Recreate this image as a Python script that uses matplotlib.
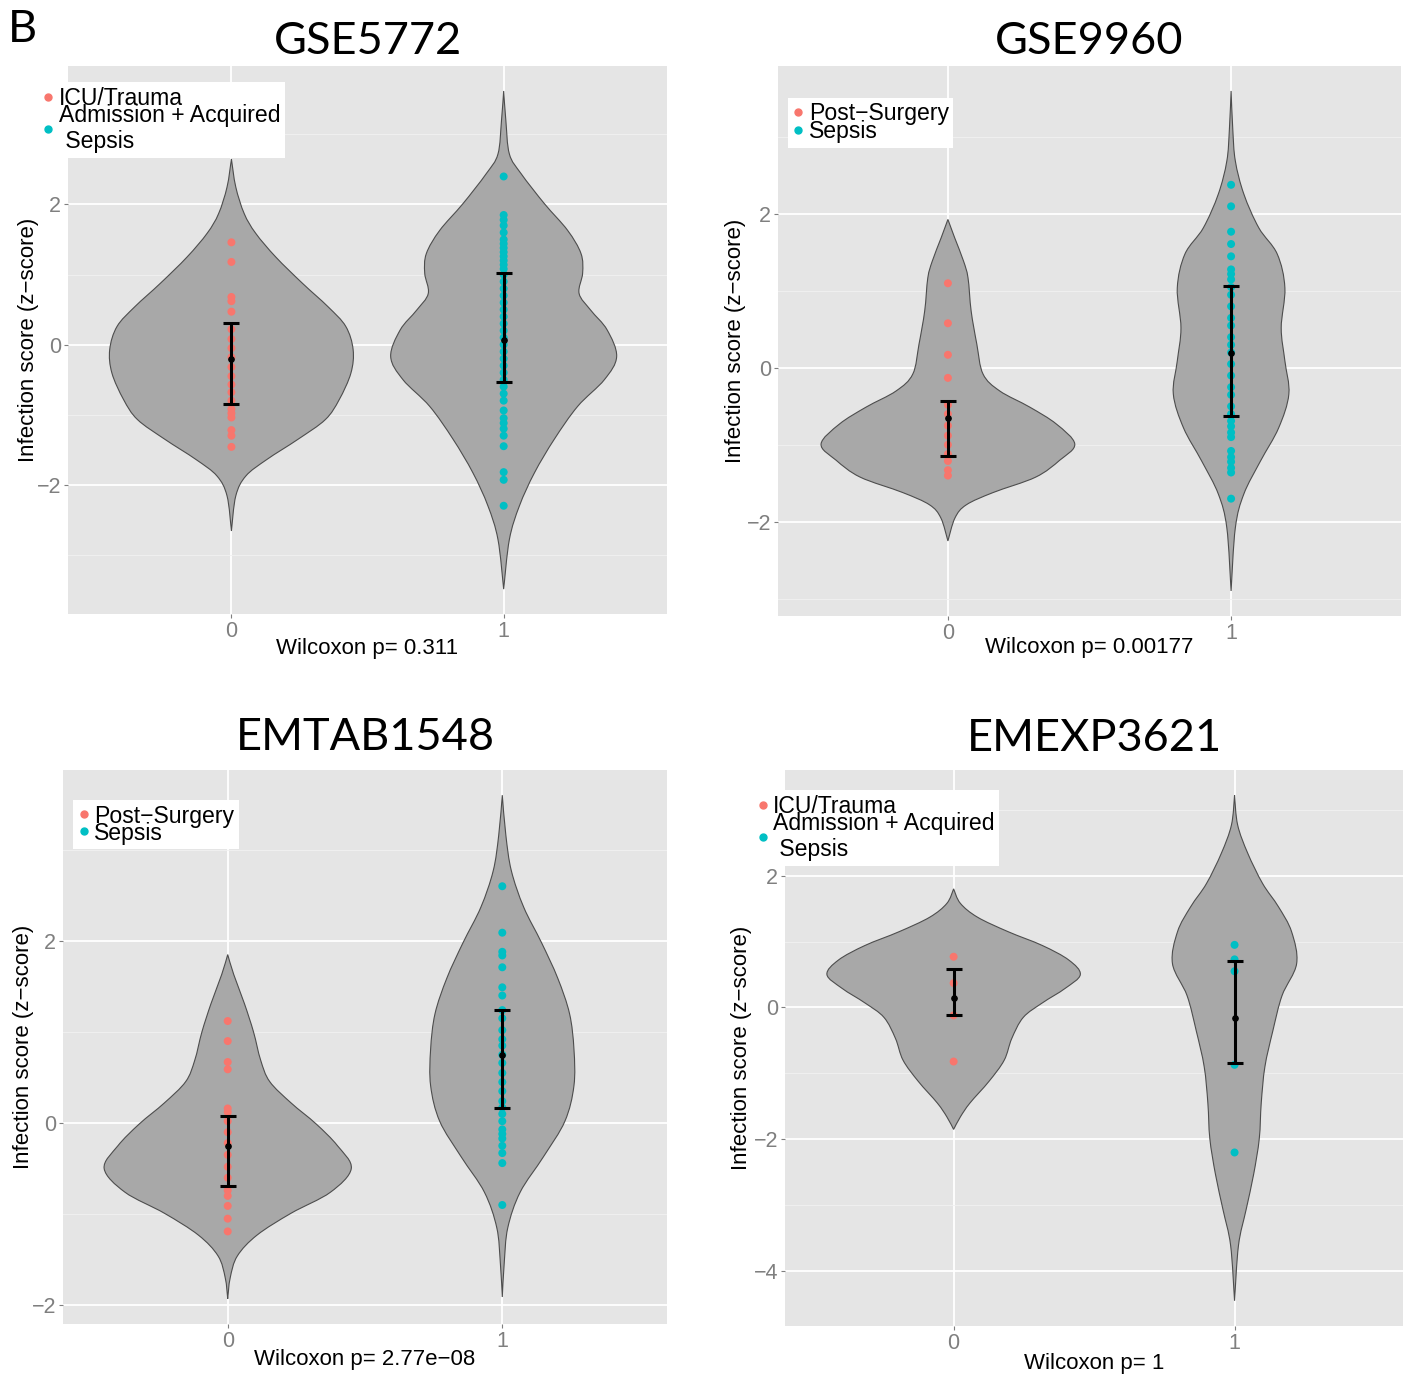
import matplotlib
matplotlib.use("Agg")
import matplotlib.pyplot as plt
import numpy as np
from matplotlib.path import Path
from matplotlib.patches import PathPatch
from matplotlib.lines import Line2D

plt.rcParams["font.family"] = ["Liberation Sans", "DejaVu Sans"]

RED = "#F8766D"
CYAN = "#00BFC4"
GROUPS = [0, 1]

# ---- GSE5772 ----
GSE5772_RED = [1.46, 1.18, 0.68, 0.62, 0.47, 0.22, 0.08, -0.05, -0.18, -0.32, -0.45,
               -0.57, -0.68, -0.80, -0.92, -0.98, -1.04, -1.22, -1.30, -1.46]
GSE5772_CYAN = [2.40, 1.85, 1.78, 1.70, 1.60, 1.50, 1.44, 1.38, 1.32, 1.26, 1.20, 1.14,
                1.08, 1.00, 0.90, 0.80, 0.70, 0.60, 0.50, 0.40, 0.30, 0.20, 0.10, 0.00,
                -0.10, -0.20, -0.30, -0.40, -0.50, -0.60, -0.70, -0.80, -0.94, -1.05,
                -1.12, -1.20, -1.30, -1.45, -1.82, -1.93, -2.30]
GSE5772_MEAN = [-0.20, 0.06]
GSE5772_LO = [-0.85, -0.54]
GSE5772_HI = [0.31, 1.02]
GSE5772_V0_Y = [2.65, 2.25, 1.87, 1.59, 1.25, 0.875, 0.54, 0.26, -0.07, -0.405, -0.785,
                -1.07, -1.35, -1.64, -1.875, -2.16, -2.66]
GSE5772_V0_W = [0, 0.016, 0.047, 0.089, 0.163, 0.261, 0.355, 0.420, 0.447, 0.439, 0.396,
                0.345, 0.245, 0.13, 0.053, 0.016, 0]
GSE5772_V1_Y = [3.62, 3.2, 2.72, 2.44, 2.01, 1.63, 1.30, 1.02, 0.73, 0.49, 0.21, -0.17,
                -0.50, -0.88, -1.35, -1.83, -2.30, -2.78, -3.49]
GSE5772_V1_W = [0, 0.008, 0.021, 0.064, 0.15, 0.235, 0.284, 0.29, 0.277, 0.32, 0.38,
                0.415, 0.37, 0.272, 0.186, 0.113, 0.058, 0.021, 0]

# ---- GSE9960 ----
GSE9960_RED = [1.10, 0.58, 0.17, -0.13, -0.48, -0.60, -0.75, -0.88, -1.00, -1.12, -1.21,
               -1.33, -1.40]
GSE9960_CYAN = [2.38, 2.10, 1.77, 1.61, 1.45, 1.28, 1.22, 1.15, 1.05, 0.95, 0.80, 0.65,
                0.55, 0.40, 0.30, 0.20, 0.05, -0.10, -0.25, -0.35, -0.50, -0.60, -0.69,
                -0.76, -0.84, -0.90, -1.08, -1.16, -1.22, -1.30, -1.36, -1.70]
GSE9960_MEAN = [-0.65, 0.19]
GSE9960_LO = [-1.14, -0.62]
GSE9960_HI = [-0.43, 1.07]
GSE9960_V0_Y = [1.93, 1.69, 1.39, 1.17, 0.74, 0.31, -0.08, -0.30, -0.51, -0.73, -0.99,
                -1.20, -1.42, -1.62, -1.78, -1.95, -2.25]
GSE9960_V0_W = [0, 0.024, 0.055, 0.071, 0.082, 0.102, 0.124, 0.183, 0.289, 0.383, 0.448,
                0.395, 0.31, 0.16, 0.065, 0.025, 0]
GSE9960_V1_Y = [3.6, 3.1, 2.69, 2.26, 1.82, 1.48, 1.04, 0.52, 0.09, -0.34, -0.78, -1.21,
                -1.64, -2.08, -2.90]
GSE9960_V1_W = [0, 0.006, 0.015, 0.045, 0.098, 0.163, 0.19, 0.177, 0.19, 0.204, 0.168,
                0.104, 0.045, 0.015, 0]

# ---- EMTAB1548 ----
EMTAB_RED = [1.12, 0.90, 0.67, 0.59, 0.16, 0.12, 0.02, -0.10, -0.22, -0.35, -0.48, -0.60,
             -0.74, -0.80, -0.91, -1.05, -1.19]
EMTAB_CYAN = [2.60, 2.09, 1.88, 1.84, 1.71, 1.49, 1.40, 1.24, 1.15, 1.02, 0.92, 0.85,
              0.75, 0.66, 0.55, 0.45, 0.35, 0.24, 0.17, 0.10, 0.02, -0.07, -0.12, -0.17,
              -0.25, -0.33, -0.44, -0.90]
EMTAB_MEAN = [-0.25, 0.75]
EMTAB_LO = [-0.69, 0.17]
EMTAB_HI = [0.08, 1.24]
EMTAB_V0_Y = [1.85, 1.63, 1.31, 1.0, 0.69, 0.455, 0.22, -0.01, -0.25, -0.50, -0.76, -0.99,
              -1.23, -1.46, -1.70, -1.93]
EMTAB_V0_W = [0, 0.022, 0.061, 0.094, 0.12, 0.153, 0.231, 0.322, 0.40, 0.45, 0.374, 0.231,
              0.107, 0.035, 0.009, 0]
EMTAB_V1_Y = [3.6, 3.16, 2.77, 2.37, 1.98, 1.59, 1.20, 0.81, 0.41, 0.02, -0.37, -0.76,
              -1.15, -1.54, -1.91]
EMTAB_V1_W = [0, 0.013, 0.033, 0.078, 0.143, 0.202, 0.245, 0.261, 0.261, 0.228, 0.15,
              0.065, 0.02, 0.007, 0]

# ---- EMEXP3621 ----
EMEXP_RED = [0.77, 0.37, -0.12, -0.82]
EMEXP_CYAN = [0.95, 0.73, 0.55, -0.87, -2.20]
EMEXP_MEAN = [0.15, -0.16]
EMEXP_LO = [-0.12, -0.84]
EMEXP_HI = [0.59, 0.71]
EMEXP_V0_Y = [1.80, 1.58, 1.37, 1.15, 0.94, 0.72, 0.50, 0.29, 0.07, -0.15, -0.47, -0.80,
              -1.12, -1.45, -1.66, -1.85]
EMEXP_V0_W = [0, 0.024, 0.085, 0.194, 0.316, 0.41, 0.451, 0.397, 0.316, 0.248, 0.207, 0.18,
              0.126, 0.058, 0.024, 0]
EMEXP_V1_Y = [3.22, 2.77, 2.34, 1.88, 1.53, 1.15, 0.665, 0.18, -0.36, -0.90, -1.45, -1.99,
              -2.53, -3.07, -3.61, -4.45]
EMEXP_V1_W = [0, 0.011, 0.047, 0.10, 0.156, 0.203, 0.221, 0.169, 0.136, 0.108, 0.095,
              0.088, 0.068, 0.041, 0.014, 0]

TITLES = ["GSE5772", "GSE9960", "EMTAB1548", "EMEXP3621"]
XLABELS = ["Wilcoxon p= 0.311", "Wilcoxon p= 0.00177", "Wilcoxon p= 2.77e\u221208",
           "Wilcoxon p= 1"]
LEG_ICU = ["ICU/Trauma", "Admission + Acquired\n Sepsis"]
LEG_SURG = ["Post\u2212Surgery", "Sepsis"]
YLABEL = "Infection score (z\u2212score)"


def side_path(xs, ys):
    # smooth curve through the outline points (Catmull-Rom as cubic beziers)
    pts = np.column_stack([xs, ys])
    ext = np.vstack([pts[0], pts, pts[-1]])
    verts = [pts[0]]
    for i in range(len(pts) - 1):
        p0, p1, p2, p3 = ext[i], ext[i + 1], ext[i + 2], ext[i + 3]
        verts += [p1 + (p2 - p0) / 6, p2 - (p3 - p1) / 6, p2]
    return verts


def draw_violin(ax, center, ys, ws):
    ys = np.asarray(ys)
    ws = np.asarray(ws)
    right = side_path(center + ws, ys)
    left = side_path(center - ws[::-1], ys[::-1])
    verts = right + left[1:] + [right[0]]
    codes = ([Path.MOVETO] + [Path.CURVE4] * (len(right) - 1)
             + [Path.CURVE4] * (len(left) - 1) + [Path.CLOSEPOLY])
    patch = PathPatch(Path(verts, codes), facecolor="#A8A8A8", edgecolor="#4D4D4D",
                      lw=0.8, zorder=2)
    ax.add_patch(patch)


def draw_panel(ax, title, xlabel, violins, points, mean, lo, hi, leg_labels, leg_pos,
               leg_spacing, majors, title_px, ylabel_x, xlabel_y):
    ax.set_facecolor("#E5E5E5")
    for s in ax.spines.values():
        s.set_visible(False)

    ends = []
    for g, (vy, vw) in zip(GROUPS, violins):
        draw_violin(ax, g, vy, vw)
        ends += [max(vy), min(vy)]
    for g, vals, col in zip(GROUPS, points, [RED, CYAN]):
        ax.scatter(np.full(len(vals), g), vals, s=33, color=col, edgecolors="none", zorder=3)
    for g in GROUPS:
        ax.errorbar(g, mean[g], yerr=[[mean[g] - lo[g]], [hi[g] - mean[g]]], fmt="o",
                    color="black", ms=3.8, lw=2.2, capsize=5.8, capthick=2.2, zorder=4)

    # ggplot-like 5% expansion of the data range
    ymax, ymin = max(ends), min(ends)
    pad = (ymax - ymin) * 0.05
    lo_lim, hi_lim = ymin - pad, ymax + pad
    ax.set_xticks(GROUPS)
    ax.set_xticklabels(["0", "1"])
    ax.set_yticks(majors)
    minors = [m for m in np.arange(majors[0] - 1, majors[-1] + 2, 2) if lo_lim < m < hi_lim]
    ax.set_yticks(minors, minor=True)
    ax.set_xlim(-0.6, 1.6)
    ax.set_ylim(lo_lim, hi_lim)
    ax.grid(which="major", color="white", lw=1.3)
    ax.grid(which="minor", axis="y", color="#F2F2F2", lw=0.6)
    ax.set_axisbelow(True)
    ax.tick_params(which="major", length=3, width=0.8, color="#7F7F7F",
                   labelcolor="#7F7F7F", labelsize=15.5, pad=2)
    ax.tick_params(which="minor", length=0)

    ax.set_ylabel(YLABEL, fontsize=16, va="center")
    ax.yaxis.set_label_coords(ylabel_x, 0.5)
    ax.set_xlabel(xlabel, fontsize=16, va="top")
    ax.xaxis.set_label_coords(0.5, xlabel_y)

    ax.annotate(title, xy=(0.5, 1), xycoords="axes fraction", xytext=(0, title_px * 0.72),
                textcoords="offset points", ha="center", va="baseline", fontsize=32.5,
                family="Lato")

    handles = [Line2D([], [], marker="o", ls="", color=c, ms=5) for c in [RED, CYAN]]
    ax.legend(handles, leg_labels, loc="upper left", bbox_to_anchor=leg_pos,
              borderaxespad=0, frameon=True, fancybox=False, edgecolor="none",
              facecolor="white", framealpha=1, borderpad=0.2, handlelength=0.5,
              handletextpad=0.2, labelspacing=leg_spacing,
              prop={"family": "Liberation Sans", "size": 16.6})


fig = plt.figure(figsize=(14.12, 13.74), dpi=100)
ax1 = fig.add_axes([0.0482, 0.5531, 0.4242, 0.3988])
ax2 = fig.add_axes([0.5510, 0.5517, 0.4412, 0.4003])
ax3 = fig.add_axes([0.0446, 0.0364, 0.4278, 0.4032])
ax4 = fig.add_axes([0.5560, 0.0349, 0.4377, 0.4047])

draw_panel(ax1, TITLES[0], XLABELS[0],
           [(GSE5772_V0_Y, GSE5772_V0_W), (GSE5772_V1_Y, GSE5772_V1_W)],
           [GSE5772_RED, GSE5772_CYAN], GSE5772_MEAN, GSE5772_LO, GSE5772_HI,
           LEG_ICU, (-0.050, 0.971), -0.26, [-2, 0, 2], 12, -0.0668, -0.0438)
draw_panel(ax2, TITLES[1], XLABELS[1],
           [(GSE9960_V0_Y, GSE9960_V0_W), (GSE9960_V1_Y, GSE9960_V1_W)],
           [GSE9960_RED, GSE9960_CYAN], GSE9960_MEAN, GSE9960_LO, GSE9960_HI,
           LEG_SURG, (0.016, 0.942), -0.24, [-2, 0, 2], 12, -0.069, -0.038)
draw_panel(ax3, TITLES[2], XLABELS[2],
           [(EMTAB_V0_Y, EMTAB_V0_W), (EMTAB_V1_Y, EMTAB_V1_W)],
           [EMTAB_RED, EMTAB_CYAN], EMTAB_MEAN, EMTAB_LO, EMTAB_HI,
           LEG_SURG, (0.017, 0.946), -0.26, [-2, 0, 2], 20, -0.0654, -0.045)
draw_panel(ax4, TITLES[3], XLABELS[3],
           [(EMEXP_V0_Y, EMEXP_V0_W), (EMEXP_V1_Y, EMEXP_V1_W)],
           [EMEXP_RED, EMEXP_CYAN], EMEXP_MEAN, EMEXP_LO, EMEXP_HI,
           LEG_ICU, (-0.053, 0.964), -0.26, [-4, -2, 0, 2], 19, -0.0712, -0.048)

fig.text(8 / 1412, 1 - 42 / 1374, "B", fontsize=32.5, family="Lato", va="baseline")

fig.savefig("out.png", dpi=100, facecolor="white")
